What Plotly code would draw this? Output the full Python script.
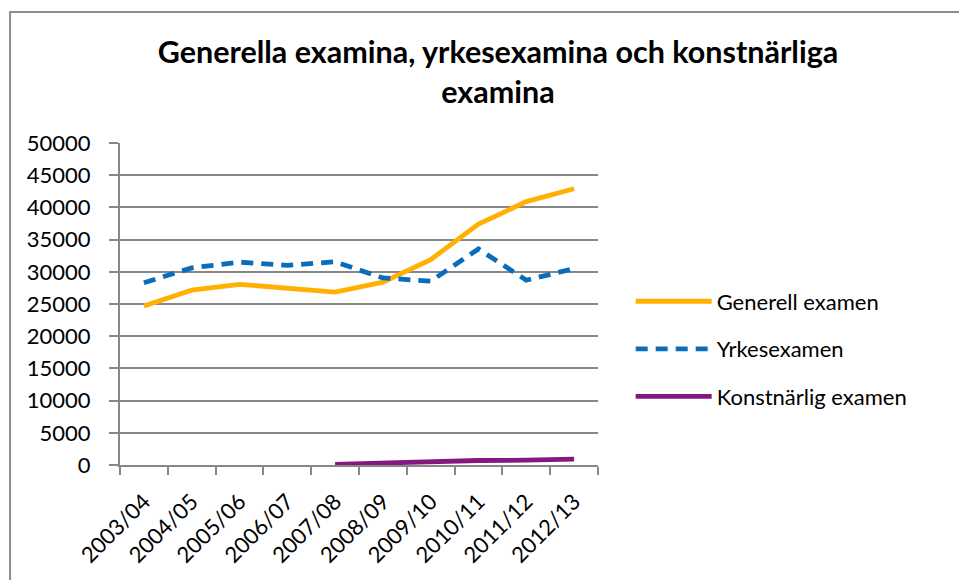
import plotly.graph_objects as go

categories = ["2003/04", "2004/05", "2005/06", "2006/07", "2007/08",
              "2008/09", "2009/10", "2010/11", "2011/12", "2012/13"]
generell = [24700, 27150, 28050, 27450, 26850, 28400, 31900, 37400, 40900, 42900]
yrkes = [28300, 30600, 31500, 31000, 31550, 29050, 28550, 33550, 28700, 30500]
konst = [None, None, None, None, 100, 330, 580, 700, 750, 900]
yticks = [0, 5000, 10000, 15000, 20000, 25000, 30000, 35000, 40000, 45000, 50000]

FONT = "Lato"
GRID = "#878787"

W, H = 959, 580
L, R, T, B = 120, 598.3, 142.7, 466.7
pw, ph = R - L, B - T


def px(x):
    return (x - L) / pw


def py(y):
    return (B - y) / ph


fig = go.Figure()
fig.add_trace(go.Scatter(x=categories, y=generell, name="Generell examen", mode="lines",
                         line=dict(color="#FFB000", width=4.8), legendgroup="a"))
fig.add_trace(go.Scatter(x=categories, y=yrkes, name="Yrkesexamen", mode="lines",
                         line=dict(color="#0B6DBA", width=4.8, dash="12px,8px"), legendgroup="b"))
fig.add_trace(go.Scatter(x=categories, y=konst, name="Konstnärlig examen", mode="lines",
                         line=dict(color="#84187F", width=4.8), legendgroup="c"))

fig.add_shape(type="rect", xref="paper", yref="paper",
              x0=px(10), x1=px(1100), y0=py(11), y1=py(800),
              line=dict(color="#8C8C8C", width=2), layer="below")

fig.update_layout(
    width=W, height=H,
    margin=dict(l=L, r=W - R, t=T, b=H - B, pad=0),
    paper_bgcolor="white", plot_bgcolor="white",
    font=dict(family=FONT, size=22, color="#000000"),
    title=dict(text="Generella examina, yrkesexamina och konstnärliga<br>examina",
               x=498 / W, xanchor="center", y=1 - 63 / H, yanchor="middle",
               xref="container", yref="container",
               font=dict(family=FONT, size=30.5, color="#000000", weight="bold")),
    legend=dict(x=px(631), y=py(281), xanchor="left", yanchor="top",
                font=dict(family=FONT, size=22), traceorder="grouped",
                tracegroupgap=16, itemwidth=76, bgcolor="rgba(0,0,0,0)"),
    xaxis=dict(type="category", tickangle=-45, showgrid=False,
               showline=True, linecolor=GRID, linewidth=2,
               ticks="outside", tickson="boundaries", ticklen=8, tickcolor=GRID, tickwidth=2,
               ticklabelstandoff=13,
               tickfont=dict(family=FONT, size=22), range=[-0.5, 9.5]),
    yaxis=dict(range=[0, 50000], tickvals=yticks, ticktext=[str(v) for v in yticks],
               showgrid=True, gridcolor=GRID, gridwidth=2,
               showline=True, linecolor=GRID, linewidth=2,
               ticks="outside", ticklen=9, tickcolor=GRID, tickwidth=2,
               ticklabelstandoff=14, zeroline=False,
               tickfont=dict(family=FONT, size=22)),
)

fig.write_html("out.html", config={"displayModeBar": False},
               post_script="document.body.style.margin='0';document.body.style.overflow='hidden';")
